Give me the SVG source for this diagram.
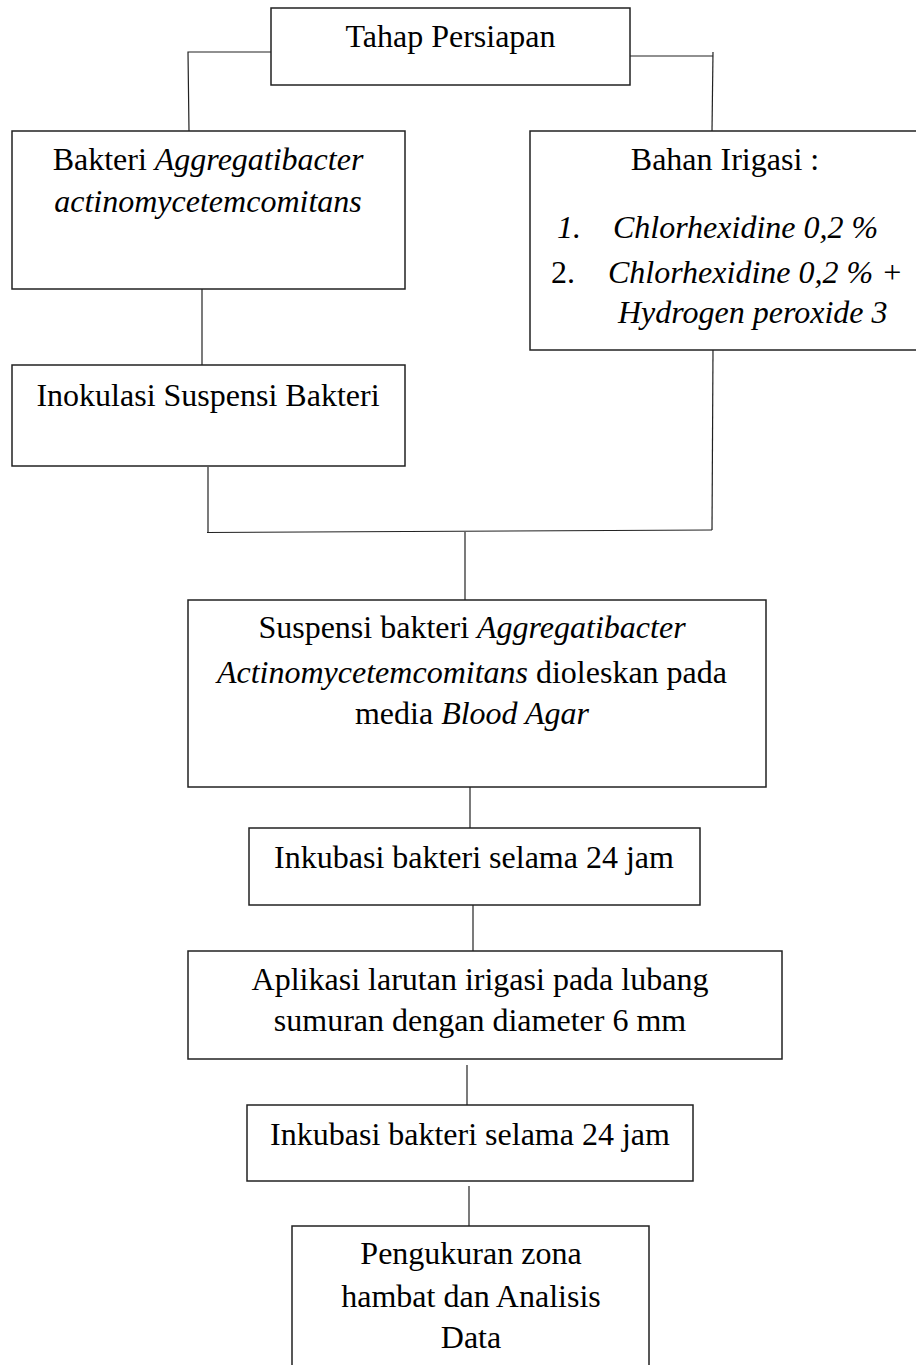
<svg xmlns="http://www.w3.org/2000/svg" width="916" height="1365" viewBox="0 0 916 1365">
<style>
.box{fill:#fff;stroke:#222;stroke-width:1.5}
.ln{fill:none;stroke:#222;stroke-width:1.2}
text{font-family:"Liberation Serif","Times New Roman",serif;font-size:32px;fill:#000}
.c{text-anchor:middle}
.i{font-style:italic}
</style>
<rect width="916" height="1365" fill="#fff"/>
<g id="connectors">
<polyline class="ln" points="271,52 188,52 189,131"/>
<polyline class="ln" points="630,56 713,56"/>
<line class="ln" x1="713" y1="52" x2="712" y2="131"/>
<line class="ln" x1="202" y1="289" x2="202" y2="365"/>
<line class="ln" x1="208" y1="467" x2="208" y2="532"/>
<line class="ln" x1="713" y1="350" x2="712" y2="530"/>
<line class="ln" x1="207" y1="532.5" x2="712" y2="530"/>
<line class="ln" x1="465" y1="532" x2="465" y2="600"/>
<line class="ln" x1="470" y1="787" x2="470" y2="828"/>
<line class="ln" x1="473" y1="905" x2="473" y2="951"/>
<line class="ln" x1="467" y1="1065" x2="467" y2="1105"/>
<line class="ln" x1="469" y1="1186" x2="469" y2="1226"/>
</g>
<g id="n-persiapan">
<rect class="box" x="271" y="8" width="359" height="77"/>
<text class="c" x="450.5" y="47">Tahap Persiapan</text>
</g>
<g id="n-bakteri">
<rect class="box" x="12" y="131" width="393" height="158"/>
<text class="c" x="208" y="170">Bakteri <tspan class="i">Aggregatibacter</tspan></text>
<text class="c i" x="208" y="212">actinomycetemcomitans</text>
</g>
<g id="n-irigasi">
<rect class="box" x="530" y="131" width="395" height="219"/>
<text class="c" x="725" y="170">Bahan Irigasi :</text>
<text class="i" x="557" y="238">1.</text>
<text class="i" x="613" y="238">Chlorhexidine 0,2 %</text>
<text x="551" y="283">2.</text>
<text class="i" x="608" y="283">Chlorhexidine 0,2 % +</text>
<text class="i" x="618" y="323">Hydrogen peroxide 3</text>
</g>
<g id="n-inokulasi">
<rect class="box" x="12" y="365" width="393" height="101"/>
<text class="c" x="208" y="406">Inokulasi Suspensi Bakteri</text>
</g>
<g id="n-suspensi">
<rect class="box" x="188" y="600" width="578" height="187"/>
<text class="c" x="472" y="638">Suspensi bakteri <tspan class="i">Aggregatibacter</tspan></text>
<text class="c" x="472" y="683"><tspan class="i">Actinomycetemcomitans</tspan> dioleskan pada</text>
<text class="c" x="472" y="724">media <tspan class="i">Blood Agar</tspan></text>
</g>
<g id="n-inkubasi1">
<rect class="box" x="249" y="828" width="451" height="77"/>
<text class="c" x="474" y="868">Inkubasi bakteri selama 24 jam</text>
</g>
<g id="n-aplikasi">
<rect class="box" x="188" y="951" width="594" height="108"/>
<text class="c" x="480" y="990">Aplikasi larutan irigasi pada lubang</text>
<text class="c" x="480" y="1031">sumuran dengan diameter 6 mm</text>
</g>
<g id="n-inkubasi2">
<rect class="box" x="247" y="1105" width="446" height="76"/>
<text class="c" x="470" y="1145">Inkubasi bakteri selama 24 jam</text>
</g>
<g id="n-pengukuran">
<polyline class="box" style="fill:none" points="292,1366 292,1226 649,1226 649,1366"/>
<text class="c" x="471" y="1264">Pengukuran zona</text>
<text class="c" x="471" y="1307">hambat dan Analisis</text>
<text class="c" x="471" y="1348">Data</text>
</g>
</svg>
